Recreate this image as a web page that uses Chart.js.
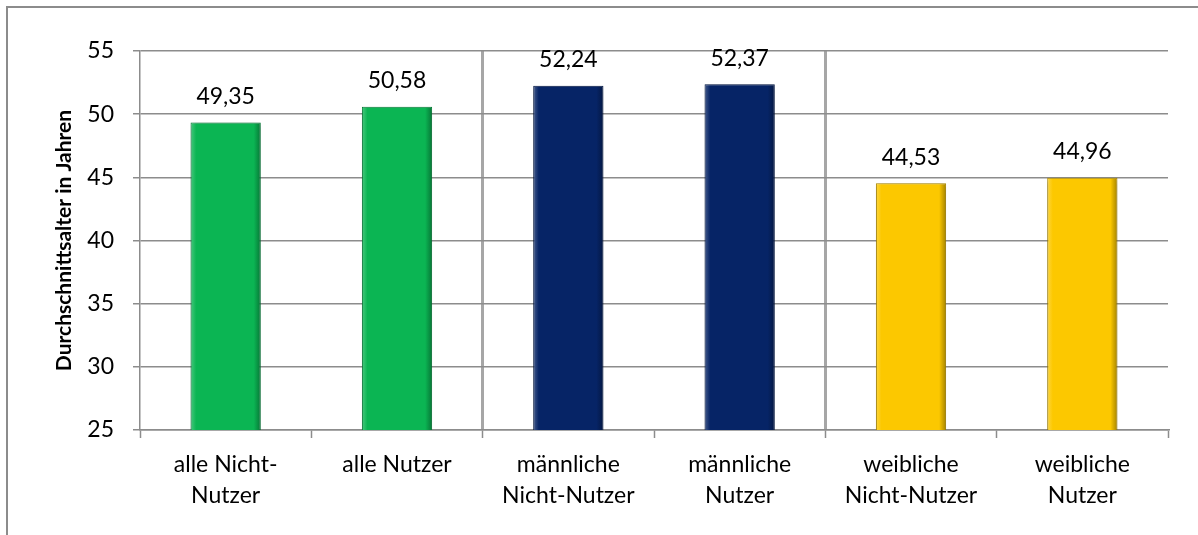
<!DOCTYPE html>
<html>
<head>
<meta charset="utf-8">
<script src="https://cdn.jsdelivr.net/npm/chart.js@4"></script>
<style>
  html, body { margin: 0; padding: 0; overflow: hidden; background: #fff; }
  #frame { position: absolute; left: 6px; top: 6px; width: 1400px; height: 800px;
           border-left: 2px solid #8c8c8c; border-top: 2px solid #8c8c8c; }
  #wrap { position: absolute; left: 0; top: 0; width: 1198px; height: 535px; }
</style>
</head>
<body>
<div id="frame"></div>
<div id="wrap"><canvas id="chart" width="1198" height="535"></canvas></div>
<script>
const categories = [
    ['alle Nicht-', 'Nutzer'],
    ['alle Nutzer'],
    ['männliche', 'Nicht-Nutzer'],
    ['männliche', 'Nutzer'],
    ['weibliche', 'Nicht-Nutzer'],
    ['weibliche', 'Nutzer']
]
const values = [49.35, 50.58, 52.24, 52.37, 44.53, 44.96]
const barColors = ['#0bb553', '#0bb553', '#062466', '#062466', '#fcc800', '#fcc800']
const yTitle = 'Durchschnittsalter in Jahren'

const FONT = 'Lato'
const numberFormat = Intl.NumberFormat('de-DE', { minimumFractionDigits: 2, maximumFractionDigits: 2 })

function shade(hex, amt) {
    const n = parseInt(hex.slice(1), 16)
    let r = (n >> 16) & 255, g = (n >> 8) & 255, b = n & 255
    const f = c => Math.max(0, Math.min(255, Math.round(amt < 0 ? c * (1 + amt) : c + (255 - c) * amt)))
    return `rgb(${f(r)},${f(g)},${f(b)})`
}

// bevelled fill, built from the x scale once layout is known
function barFill(ctx) {
    const chart = ctx.chart
    const base = barColors[ctx.dataIndex]
    const xs = chart.scales.x
    if (!xs || !chart.chartArea) return base
    const cx = xs.getPixelForValue(ctx.dataIndex)
    const half = xs.width / categories.length * 0.41 / 2
    const g = chart.ctx.createLinearGradient(cx - half, 0, cx + half, 0)
    g.addColorStop(0, shade(base, 0.25))
    g.addColorStop(0.08, base)
    g.addColorStop(0.9, base)
    g.addColorStop(1, shade(base, -0.35))
    return g
}

const valueLabels = {
    id: 'valueLabels',
    beforeDatasetsDraw(chart) {
        const c = chart.ctx
        c.save()
        c.shadowColor = 'rgba(0,0,0,0.35)'
        c.shadowBlur = 5
        c.shadowOffsetY = 2
    },
    afterDatasetsDraw(chart) {
        const c = chart.ctx
        c.restore()
        c.save()
        c.font = `23px ${FONT}`
        c.fillStyle = '#000'
        c.textAlign = 'center'
        c.textBaseline = 'middle'
        chart.getDatasetMeta(0).data.forEach((bar, i) => {
            c.fillText(numberFormat.format(values[i]), bar.x, bar.y - 26)
        })
        c.restore()
    }
}

new Chart(document.getElementById('chart'), {
    type: 'bar',
    data: {
        labels: categories,
        datasets: [{
            data: values,
            backgroundColor: barFill,
            borderColor: barColors.map(c => shade(c, -0.3)),
            borderWidth: 1,
            categoryPercentage: 1,
            barPercentage: 0.41
        }]
    },
    options: {
        responsive: false,
        animation: false,
        layout: { padding: { left: 54, top: 51, right: 30, bottom: 0 } },
        plugins: {
            legend: { display: false },
            tooltip: { enabled: false }
        },
        scales: {
            x: {
                offset: true,
                grid: {
                    offset: true,
                    color: ctx => (ctx.index === 2 || ctx.index === 4) ? '#a6a6a6' : 'rgba(0,0,0,0)',
                    lineWidth: 3,
                    tickColor: '#8c8c8c',
                    tickWidth: 1.5,
                    tickLength: 8,
                    drawTicks: true
                },
                border: { display: true, color: '#8c8c8c', width: 1.5 },
                ticks: {
                    color: '#000',
                    padding: 11,
                    maxRotation: 0,
                    font: { family: FONT, size: 23, lineHeight: 1.35 }
                },
                afterFit: s => { s.height = 105 }
            },
            y: {
                min: 25,
                max: 55,
                ticks: {
                    stepSize: 5,
                    color: '#000',
                    padding: 19,
                    font: { family: FONT, size: 23 }
                },
                grid: {
                    color: '#8c8c8c',
                    lineWidth: 1.5,
                    tickLength: 7,
                    drawTicks: true
                },
                border: { display: true, color: '#8c8c8c', width: 1.5 },
                title: {
                    display: true,
                    text: yTitle,
                    color: '#000',
                    padding: 0,
                    font: { family: FONT, size: 21, weight: 'bold', lineHeight: 1 }
                },
                afterFit: s => { s.width = 86 }
            }
        }
    },
    plugins: [valueLabels]
})
</script>
</body>
</html>
